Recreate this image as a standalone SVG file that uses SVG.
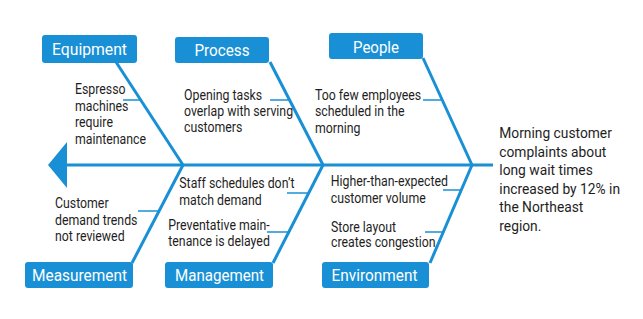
<svg xmlns="http://www.w3.org/2000/svg" width="643" height="319" viewBox="0 0 643 319">
<style>
.bone{stroke:#1990d5;stroke-width:3;fill:none;stroke-linecap:butt}
.twig{stroke:#1990d5;stroke-width:1.5;fill:none}
.box{fill:#1990d5}
.lbl{font-family:Roboto,"Liberation Sans",sans-serif;font-size:17px;fill:#fff;text-anchor:middle}
.txt{font-family:Roboto,"Liberation Sans",sans-serif;font-size:14px;fill:#1e1e1e}
.eff{font-family:Roboto,"Liberation Sans",sans-serif;font-size:15.5px;fill:#1e1e1e}
</style>
<rect width="643" height="319" fill="#fff"/>
<g id="connectors">
<line class="bone" x1="64" y1="165" x2="493" y2="165"/>
<polygon points="48,165 67,142 67,188" fill="#1990d5"/>
<line class="bone" x1="116" y1="62" x2="183" y2="165"/>
<line class="bone" x1="132" y1="263" x2="183" y2="165"/>
<line class="bone" x1="270" y1="62" x2="323" y2="165"/>
<line class="bone" x1="273" y1="263" x2="323" y2="165"/>
<line class="bone" x1="423" y1="58" x2="472" y2="165"/>
<line class="bone" x1="430" y1="263" x2="472" y2="165"/>
<line class="twig" x1="123" y1="100" x2="140" y2="100"/>
<line class="twig" x1="270" y1="100" x2="289" y2="100"/>
<line class="twig" x1="423" y1="100" x2="442" y2="100"/>
<line class="twig" x1="138" y1="211" x2="159" y2="211"/>
<line class="twig" x1="287" y1="193" x2="308" y2="193"/>
<line class="twig" x1="267" y1="232" x2="289" y2="232"/>
<line class="twig" x1="443" y1="190" x2="461" y2="190"/>
<line class="twig" x1="425" y1="232" x2="443" y2="232"/>
</g>
<g id="equipment"><rect class="box" x="42" y="35" width="95" height="28" rx="3"/><text class="lbl" x="89.5" y="55" textLength="75" lengthAdjust="spacingAndGlyphs">Equipment</text></g>
<g id="process"><rect class="box" x="175" y="37" width="94" height="26" rx="3"/><text class="lbl" x="222" y="55.5" textLength="55" lengthAdjust="spacingAndGlyphs">Process</text></g>
<g id="people"><rect class="box" x="329" y="33" width="94" height="26" rx="3"/><text class="lbl" x="376" y="52.5" textLength="46" lengthAdjust="spacingAndGlyphs">People</text></g>
<g id="measurement"><rect class="box" x="25" y="262" width="108" height="26" rx="3"/><text class="lbl" x="79.5" y="281" textLength="95" lengthAdjust="spacingAndGlyphs">Measurement</text></g>
<g id="management"><rect class="box" x="165" y="262" width="108" height="26" rx="3"/><text class="lbl" x="219.5" y="281" textLength="89" lengthAdjust="spacingAndGlyphs">Management</text></g>
<g id="environment"><rect class="box" x="322" y="262" width="107" height="26" rx="3"/><text class="lbl" x="374.5" y="281" textLength="86" lengthAdjust="spacingAndGlyphs">Environment</text></g>
<g id="cause-equipment"><text class="txt" transform="translate(75,94) scale(0.88,1)"><tspan x="0" y="0">Espresso</tspan><tspan x="0" y="16.7">machines</tspan><tspan x="0" y="33.4">require</tspan><tspan x="0" y="50.1">maintenance</tspan></text></g>
<g id="cause-process"><text class="txt" transform="translate(184,99.5) scale(0.88,1)"><tspan x="0" y="0">Opening tasks</tspan><tspan x="0" y="16.3">overlap with serving</tspan><tspan x="0" y="32.6">customers</tspan></text></g>
<g id="cause-people"><text class="txt" transform="translate(315,100) scale(0.88,1)"><tspan x="0" y="0">Too few employees</tspan><tspan x="0" y="16.5">scheduled in the</tspan><tspan x="0" y="33">morning</tspan></text></g>
<g id="cause-measurement"><text class="txt" transform="translate(55,208) scale(0.88,1)"><tspan x="0" y="0">Customer</tspan><tspan x="0" y="16.7">demand trends</tspan><tspan x="0" y="33.4">not reviewed</tspan></text></g>
<g id="cause-management"><text class="txt" transform="translate(179.3,188.3) scale(0.88,1)"><tspan x="0" y="0">Staff schedules don’t</tspan><tspan x="0" y="16.7">match demand</tspan></text><text class="txt" transform="translate(168.3,230) scale(0.88,1)"><tspan x="0" y="0">Preventative main-</tspan><tspan x="0" y="16.3">tenance is delayed</tspan></text></g>
<g id="cause-environment"><text class="txt" transform="translate(330.7,186) scale(0.88,1)"><tspan x="0" y="0">Higher-than-expected</tspan><tspan x="0" y="17">customer volume</tspan></text><text class="txt" transform="translate(331,231.5) scale(0.88,1)"><tspan x="0" y="0">Store layout</tspan><tspan x="0" y="16">creates congestion</tspan></text></g>
<g id="effect"><text class="eff" transform="translate(499.3,138.3) scale(0.89,1)"><tspan x="0" y="0">Morning customer</tspan><tspan x="0" y="18.5">complaints about</tspan><tspan x="0" y="37">long wait times</tspan><tspan x="0" y="55.5">increased by 12% in</tspan><tspan x="0" y="74">the Northeast</tspan><tspan x="0" y="92.5">region.</tspan></text></g>
</svg>
